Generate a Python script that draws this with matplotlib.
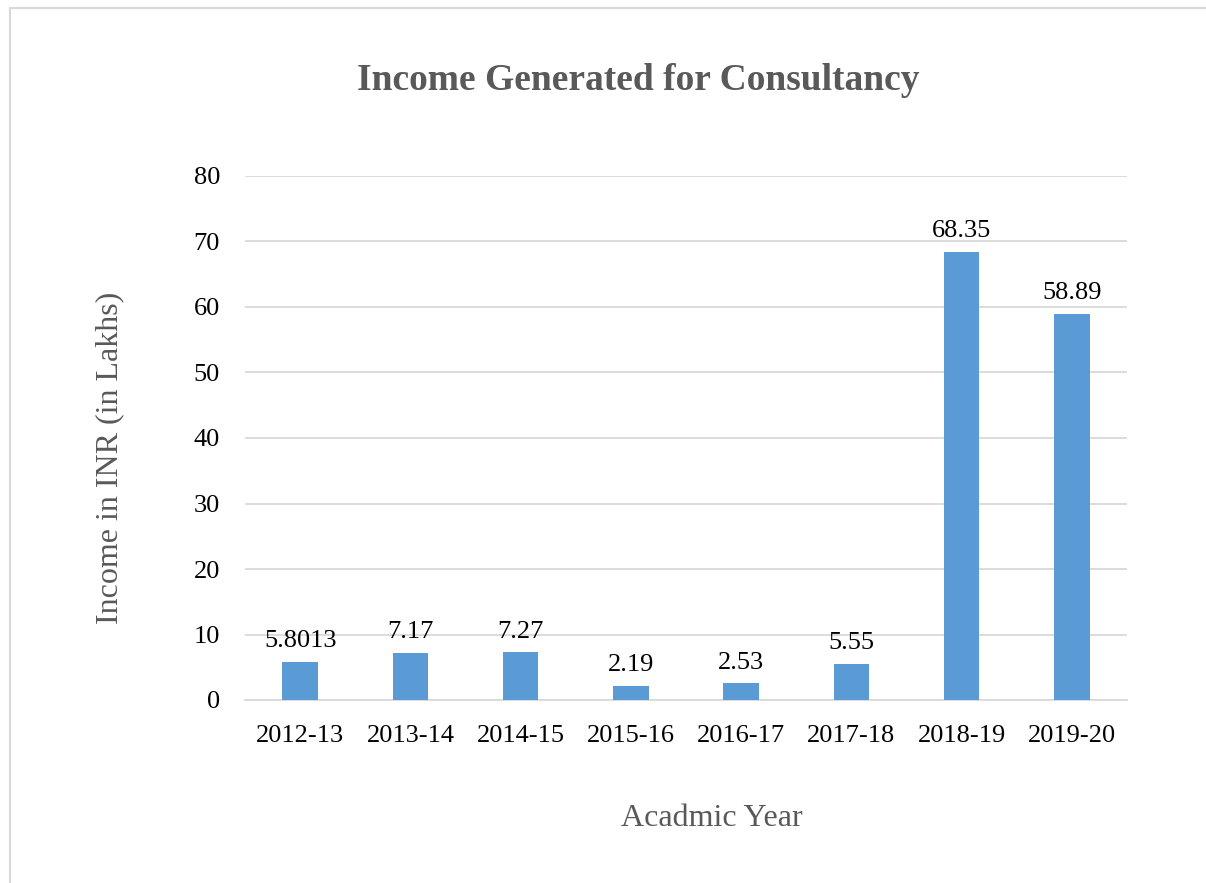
import matplotlib.pyplot as plt
from matplotlib.patches import Rectangle

years = ["2012-13", "2013-14", "2014-15", "2015-16", "2016-17", "2017-18", "2018-19", "2019-20"]
income = [5.8013, 7.17, 7.27, 2.19, 2.53, 5.55, 68.35, 58.89]
value_labels = ["5.8013", "7.17", "7.27", "2.19", "2.53", "5.55", "68.35", "58.89"]

plt.rcParams['font.family'] = ['Liberation Serif', 'DejaVu Serif']

fig = plt.figure(figsize=(12.06, 8.83), dpi=100)
# outer chart frame, runs off the right and bottom edges
fig.patches.append(Rectangle((10 / 1206, -0.05), 1.2, 1 - 8 / 883 + 0.05, transform=fig.transFigure,
                             fill=False, edgecolor="#D9D9D9", linewidth=1.5))

ax = fig.add_axes([245 / 1206, 1 - 700 / 883, 882 / 1206, 524 / 883])
x = range(len(years))
bars = ax.bar(x, income, width=0.32, color="#5B9BD5", zorder=3)
for rect, lab in zip(bars, value_labels):
    ax.text(rect.get_x() + rect.get_width() / 2, rect.get_height() + 1.5, lab,
            ha="center", va="bottom", fontsize=19, color="#000000")

ax.set_xlim(-0.5, len(years) - 0.5)
ax.set_ylim(0, 80)
ax.set_yticks(range(0, 81, 10))
ax.set_xticks(list(x))
ax.set_xticklabels(years)
ax.yaxis.grid(True, color="#D9D9D9", linewidth=1.3, zorder=0)
for side in ["top", "right", "left"]:
    ax.spines[side].set_visible(False)
ax.spines["bottom"].set_color("#D9D9D9")
ax.spines["bottom"].set_linewidth(1.3)
ax.tick_params(axis="both", length=0, labelsize=19, colors="#000000")
ax.tick_params(axis="y", pad=18)
ax.tick_params(axis="x", pad=18)

fig.text(638 / 1206, 1 - 80 / 883, "Income Generated for Consultancy", ha="center", va="center",
         fontsize=27, fontweight="bold", color="#595959")
fig.text(110 / 1206, 1 - 458 / 883, "Income in INR (in Lakhs)", ha="center", va="center",
         rotation=90, fontsize=23, color="#595959")
fig.text(712 / 1206, 1 - 818 / 883, "Acadmic Year", ha="center", va="center",
         fontsize=23, color="#595959")

fig.savefig("out.png", dpi=100)
